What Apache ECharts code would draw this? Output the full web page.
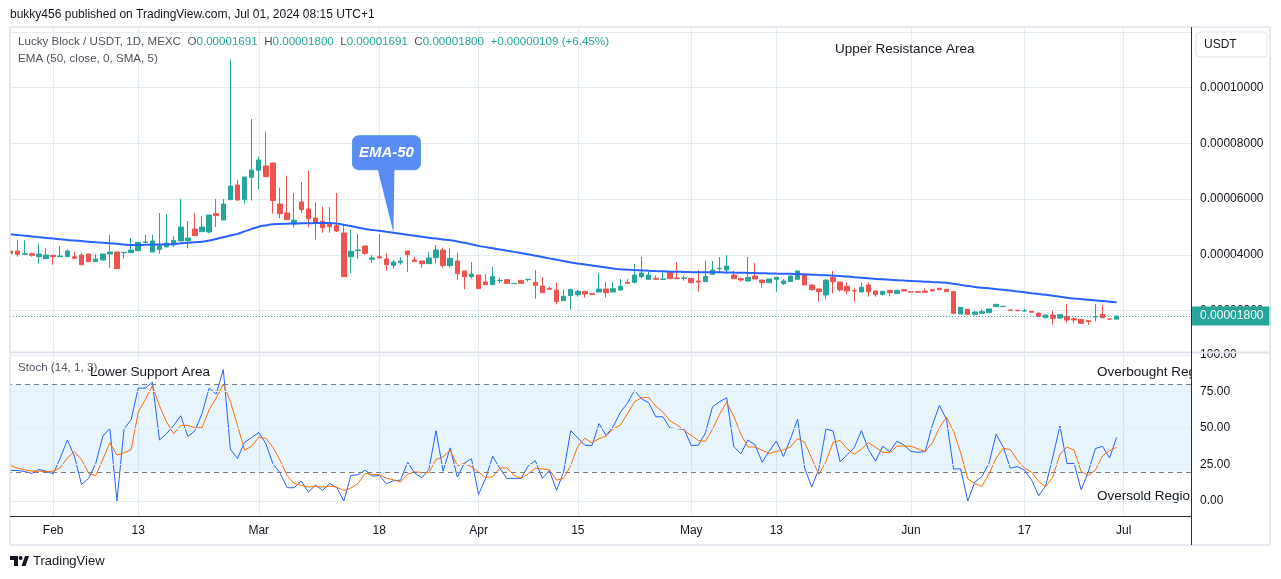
<!DOCTYPE html>
<html><head><meta charset="utf-8">
<script src="https://cdn.jsdelivr.net/npm/echarts@6/dist/echarts.min.js"></script>
<style>html,body{margin:0;padding:0;background:#fff}#c{width:1281px;height:579px}</style>
</head><body><div id="c"></div>
<script>
// ---------------- DATA (prices in units of 1e-8 USDT) ----------------
const UNIT = 1e-8;
const START_DATE = '2024-01-26';
const CATEGORY_COUNT = 167;
const tickDates  = ['2024-02-01','2024-02-13','2024-03-01','2024-03-18','2024-04-01','2024-04-15','2024-05-01','2024-05-13','2024-06-01','2024-06-17','2024-07-01'];
const tickLabels = ['Feb','13','Mar','18','Apr','15','May','13','Jun','17','Jul'];
const priceTicks  = [2000,4000,6000,8000,10000,12000];
const priceLabels = [2000,4000,6000,8000,10000];
const stochLevels = [80,50,20];

const open = [4136,4136,4016,4040,3932,3861,3980,3932,3932,3932,
 3992,4028,3753,3813,4028,4100,4076,4076,4148,4440,
 4100,4196,4280,4351,4495,4507,4926,4830,4818,5476,
 5249,5979,6506,5979,6781,7032,7188,7295,5823,5500,
 5105,5895,5644,5321,5201,5153,5046,4782,3932,4148,
 4315,3837,3932,3849,3621,3717,4136,3813,3777,3681,
 3897,4172,3609,3777,3418,3215,3274,3023,2927,3071,
 3107,2965,3083,3107,3011,2879,2796,2736,2353,2533,
 2568,2688,2604,2664,2772,2664,2736,3011,3011,3215,
 3119,3155,3119,3382,3167,3155,3155,3059,3035,3298,
 3502,3454,3274,3143,3059,3239,3095,2999,3119,2963,
 3035,3119,3310,2915,2772,2556,3179,3023,2868,2712,
 2664,2915,2700,2580,2724,2616,2748,2676,2676,2700,
 2748,2796,2760,2676,1874,2042,1862,1898,1922,2138,
 2138,2018,2006,1982,1970,1910,1743,1839,1731,1791,
 1707,1683,1635,1767,1862,1695,1691];
const high = [4150,4519,4519,4076,4387,4244,3980,4315,4196,4100,
 4064,4040,4016,4040,4722,4110,4100,4603,4460,4722,
 4722,5500,5464,4674,6003,5213,5500,5393,5428,6003,
 6003,10993,6685,6793,8875,7523,8420,7295,6410,6840,
 6218,6613,7020,5883,5728,5716,6218,5069,4890,4746,
 4315,3992,4746,4052,3813,3920,4136,3932,3777,4088,
 4351,4256,4232,4076,3418,3741,3274,3310,3562,3179,
 3131,2985,3083,3119,3454,3191,2856,2999,2760,2760,
 2736,2688,2628,3346,3023,3023,3131,3131,3669,3921,
 3394,3262,3406,3382,3741,3262,3155,3454,3777,3777,
 3921,3992,3430,3191,3921,3705,3095,3131,3191,3131,
 3239,3430,3310,2915,2772,3095,3418,3023,3011,2820,
 3011,3011,2700,2688,2724,2724,2760,2688,2676,2796,
 2760,2820,2772,2700,2114,2042,1982,2042,2054,2221,
 2160,2018,2030,2054,1982,1910,1839,1994,1850,2233,
 1755,1683,1635,2233,2197,1695,1800];
const low = [4030,3932,4010,3932,3681,3861,3645,3932,3932,3861,
 3645,3741,3753,3813,3537,3502,3861,4076,4140,4411,
 4100,4040,4280,4280,4495,4232,4686,4830,4770,4998,
 5249,5979,5943,5835,5943,6338,6805,5476,5309,5261,
 4986,5500,4986,4543,4794,4794,4818,3214,3334,3849,
 3992,3705,3885,3418,3502,3645,3382,3753,3537,3681,
 3693,3538,3538,3095,2760,3143,2784,2927,2927,2987,
 2975,2960,2975,3035,2425,2640,2760,2221,2353,2030,
 2497,2461,2580,2664,2461,2664,2712,2975,2975,3155,
 3119,3119,3119,3143,3143,3071,2975,2676,3035,3274,
 3334,3310,3143,3035,3035,3131,2820,2999,2676,2915,
 3035,3119,2915,2712,2317,2413,2616,2676,2580,2317,
 2664,2497,2497,2533,2509,2616,2700,2664,2640,2652,
 2700,2736,2676,1862,1874,1862,1814,1898,1922,2138,
 2138,2006,1970,1970,1934,1791,1743,1491,1695,1575,
 1539,1539,1479,1611,1719,1683,1691];
const close = [4040,4016,4040,3980,4028,3992,3932,3956,4136,3873,
 3645,3753,3849,4028,4100,3502,4088,4172,4447,4460,
 4495,4327,4423,4519,4998,4603,4686,4998,5428,5404,
 5823,6470,5967,6793,7044,7403,6805,5943,5476,5261,
 5237,5620,5297,5177,4974,5010,4854,3214,4124,4172,
 4052,3885,3885,3645,3741,3777,4004,3753,3681,3885,
 4172,3610,3873,3322,3215,3310,2784,2927,3227,3083,
 2975,2975,2975,3119,2903,2640,2760,2317,2509,2760,
 2688,2592,2580,2772,2640,2784,2867,2975,3274,3346,
 3274,3119,3131,3143,3143,3167,2999,3023,3227,3454,
 3514,3598,3143,3095,3191,3131,2999,3131,3191,3059,
 3239,3418,2915,2748,2676,3095,3035,2736,2700,2700,
 2832,2676,2580,2688,2640,2724,2700,2664,2652,2652,
 2700,2748,2676,1898,2114,1862,1946,1958,2054,2221,
 2150,2006,1994,1994,1934,1791,1839,1719,1850,1659,
 1659,1539,1599,1779,1743,1691,1800];
const ema50 = [4736,4710,4684,4658,4633,4607,4581,4556,4530,4510,
 4491,4471,4451,4432,4412,4392,4371,4351,4354,4358,
 4364,4370,4376,4390,4410,4432,4452,4470,4510,4570,
 4630,4690,4750,4840,4930,5008,5055,5094,5105,5115,
 5124,5130,5134,5137,5140,5141,5120,5080,5030,4978,
 4926,4893,4860,4826,4793,4757,4721,4686,4650,4614,
 4582,4550,4518,4480,4430,4375,4320,4275,4232,4190,
 4147,4105,4065,4017,3968,3920,3871,3823,3775,3727,
 3690,3654,3618,3582,3546,3510,3478,3465,3452,3440,
 3425,3414,3406,3398,3391,3383,3375,3371,3371,3371,
 3371,3366,3360,3355,3349,3344,3338,3332,3326,3321,
 3315,3308,3296,3285,3273,3262,3250,3239,3218,3197,
 3176,3155,3134,3119,3104,3089,3074,3061,3048,3035,
 3022,3010,2998,2960,2920,2880,2844,2820,2795,2770,
 2745,2716,2685,2654,2623,2594,2562,2528,2494,2460,
 2432,2409,2386,2363,2340,2317,2294];
const stochK = [20.9,20.9,20.2,18.9,21.6,20.5,18.6,29.3,41.8,30.7,
 11.4,15.5,25.5,44.3,49.8,0,49.3,55.7,77.3,77.3,
 81.4,41.8,46.1,51.8,58.4,44.1,48.2,59.8,77.3,73.2,
 90,35.5,29.1,40.2,43.4,47,39.3,25.5,19.3,9.1,
 9.1,13.6,6.1,10.9,7.3,12,9.3,0,17.5,18,
 21.1,17,17.5,11.8,13.9,14.3,26.6,19.1,15.9,21.6,
 48.2,20.5,36.4,16.4,25.9,28.9,4.5,15.5,30.7,22.3,
 15.5,15.5,15.5,23.9,27.7,15.5,20.9,7.3,19.8,48.2,
 43.2,38.2,38,53,44.8,51.1,60.7,67,75.7,70,
 67.3,57.7,57.7,50,49.5,49.1,38,38.2,46.6,64.5,
 68,70.7,37.3,32.3,41.8,38.4,26.6,34.1,41.1,30.5,
 42.5,56.1,22.5,9.5,22,49.3,48,26.8,31.8,36.6,
 48.2,35.2,27.3,37.5,33.9,40.9,38.4,33.9,33.4,33.9,
 51.8,65.5,55.9,22,22,0,13,16.8,25.9,45.7,
 37,22.5,23.6,21.1,14.5,3.6,10.5,30.2,51.4,25.7,
 25.7,7.7,19.8,35.9,37.5,29.5,43.6];
const stochD = [24.3,22.5,21.4,20.5,20.5,20,20.5,22.7,29.5,33.9,
 28.4,19.1,17.3,28.4,39.8,31.4,33,35,60.9,69.5,
 78.9,65.2,54.1,46.1,51.8,51.8,50.2,50.2,62.5,70.5,
 80,68.2,51.8,34.8,37.5,43.6,43,36.8,28,17.5,
 12,10.7,9.5,10.2,9.5,10.2,9.5,7,8.9,12,
 18.9,18.2,18,15.7,14.5,13,18.4,20,19.5,19.3,
 28.4,30.2,34.8,24.3,25.7,23.4,19.8,16.1,16.6,22.5,
 22.7,17.7,15.5,18.6,22.3,22,21.4,14.3,15.5,24.3,
 37.5,43,39.8,42.7,44.5,49.3,52,59.8,68,70.7,
 70.9,65,60.9,55,52,48.4,45,41.4,40.9,49.1,
 59.5,67.7,58,45.7,37,37,34.8,32.5,33.9,35,
 37,42.7,40.2,29.1,18.2,27,40.2,41.4,35.7,32,
 35.5,40,36.8,33.4,33,37.5,37.7,37.5,35.7,33.9,
 39.8,50,57.5,47.7,33,15.2,12,10,18.6,29.3,
 36.1,35.2,28,22.5,19.8,13.4,9.8,16.4,32,37,
 34.8,20.2,17.5,21.1,30.9,34.5,36.8];
const CALLOUT_AT = 54;

// ---------------- build ----------------
const categories = [];
(function(){ const t0 = Date.parse(START_DATE + 'T00:00:00Z');
  for (let k = 0; k < CATEGORY_COUNT; k++) categories.push(new Date(t0 + k*86400000).toISOString().slice(0,10)); })();
const candles = open.map((o,i)=>[o, close[i], low[i], high[i]]);
const fmtP = v => (v*UNIT).toFixed(8);
const last = close.length - 1;
const chg = close[last] - close[last-1];
const pct = chg / close[last-1] * 100;
const sign = chg >= 0 ? '+' : '-';

const FONT = '"Liberation Sans", Arial, sans-serif';
const GRID = '#e3ebf3';
const UP = '#26a69a', DOWN = '#ef5350';
const X0 = 10.6, BAND = 7.09;
const mainLeft = X0 - BAND/2, mainW = CATEGORY_COUNT*BAND, mainRight = 1281 - mainLeft - mainW;
const bgLeft = X0, bgW = (CATEGORY_COUNT-1)*BAND, bgRight = 1281 - bgLeft - bgW;
const isTick = (i, v) => tickDates.indexOf(v) >= 0;

function T(id, x, y, text, size, color, z, extra) {
  return {type:'text', id, x, y, z: z == null ? 110 : z, silent:true,
    style: Object.assign({text, fill: color, fontSize: size, fontFamily: FONT, verticalAlign:'middle', align:'left'}, extra || {})};
}
function L(id, x1, y1, x2, y2, color, w, z) {
  return {type:'line', id, z: z == null ? 105 : z, silent:true, shape:{x1,y1,x2,y2}, style:{stroke:color, lineWidth:w||1}};
}

const legendText = '{g|Lucky Block / USDT, 1D, MEXC}  {g|O}{v|' + fmtP(open[last]) + '}  {g|H}{v|' + fmtP(high[last]) +
  '}  {g|L}{v|' + fmtP(low[last]) + '}  {g|C}{v|' + fmtP(close[last]) + '}  {v|' + sign + fmtP(Math.abs(chg)) + ' (' + sign + Math.abs(pct).toFixed(2) + '%)}';
const LEG = 11.6;

const chart = echarts.init(document.getElementById('c'), null, {renderer:'canvas', width:1281, height:579});
chart.setOption({
  animation:false,
  backgroundColor:'#ffffff',
  grid:[
    {left:bgLeft, right:bgRight, top:27, height:489},
    {left:mainLeft, right:mainRight, top:27, height:325},
    {left:mainLeft, right:mainRight, top:355, height:146}
  ],
  xAxis:[
    {gridIndex:0, type:'category', data:categories, boundaryGap:false,
     axisLine:{show:false}, axisTick:{show:false},
     axisLabel:{interval:isTick, formatter:v => tickLabels[tickDates.indexOf(v)] || '', color:'#131722', fontSize:12, fontFamily:FONT, margin:9},
     splitLine:{show:true, interval:isTick, lineStyle:{color:GRID, width:1}}},
    {gridIndex:1, type:'category', data:categories, boundaryGap:true, show:false},
    {gridIndex:2, type:'category', data:categories, boundaryGap:true, show:false}
  ],
  yAxis:[
    {gridIndex:0, type:'value', min:0, max:1, show:false},
    {gridIndex:1, type:'value', position:'right', min:510, max:12178,
     axisLine:{show:false}, axisTick:{show:false, customValues:priceTicks},
     axisLabel:{customValues:priceLabels, formatter:fmtP, color:'#131722', fontSize:12, fontFamily:FONT, margin:9},
     splitLine:{show:true, lineStyle:{color:GRID, width:1}}},
    {gridIndex:2, type:'value', position:'right', min:0, max:100, interval:25, z:60,
     axisLine:{show:false}, axisTick:{show:false},
     axisLabel:{formatter:v => v.toFixed(2), color:'#131722', fontSize:12, fontFamily:FONT, margin:9},
     splitLine:{show:true, lineStyle:{color:GRID, width:1}}}
  ],
  series:[
    {type:'candlestick', name:'Lucky Block / USDT', xAxisIndex:1, yAxisIndex:1, data:candles, barWidth:5,
     itemStyle:{color:UP, color0:DOWN, borderColor:UP, borderColor0:DOWN, borderWidth:1},
     markLine:{silent:true, symbol:['none','none'], animation:false,
       data:[{yAxis: close[last]}],
       lineStyle:{color:UP, type:[1,2], width:1},
       label:{show:true, position:'end', distance:1, formatter:() => fmtP(close[last]),
         backgroundColor:UP, color:'#ffffff', fontSize:12, fontFamily:FONT, padding:[4,7,3,8]}}},
    {type:'line', name:'EMA 50', xAxisIndex:1, yAxisIndex:1, data:ema50, smooth:0.3, showSymbol:false, symbol:'none',
     lineStyle:{color:'#2962ff', width:2}, z:3},
    {type:'line', name:'%K', xAxisIndex:2, yAxisIndex:2, data:stochK, showSymbol:false, symbol:'none',
     lineStyle:{color:'#2962ff', width:1},
     markArea:{silent:true, itemStyle:{color:'rgba(33,150,243,0.1)'}, data:[[{yAxis:stochLevels[2]},{yAxis:stochLevels[0]}]]},
     markLine:{silent:true, symbol:['none','none'], label:{show:false},
       lineStyle:{color:'#787b86', type:[5,4], width:1},
       data:stochLevels.map(v => ({yAxis:v}))}},
    {type:'line', name:'%D', xAxisIndex:2, yAxisIndex:2, data:stochD, showSymbol:false, symbol:'none',
     lineStyle:{color:'#ff6d00', width:1}}
  ],
  graphic:{elements:[
    T('hdr', 10, 15, 'bukky456 published on TradingView.com, Jul 01, 2024 08:15 UTC+1', 12, '#131722'),
    {type:'rect', id:'leftCover', z:100, silent:true, shape:{x:0, y:27, width:10, height:490}, style:{fill:'#ffffff'}},
    {type:'rect', id:'rightCover', z:50, silent:true, shape:{x:1192, y:353, width:77.5, height:162}, style:{fill:'#ffffff'}},
    {type:'rect', id:'frame', z:101, silent:true, shape:{x:10, y:27, width:1260, height:518}, style:{fill:null, stroke:'#e0e3eb', lineWidth:1.5}},
    L('sep', 10, 352.5, 1270, 352.5, '#e0e3eb', 2, 70),
    L('vaxis', 1191.5, 27, 1191.5, 545, '#2a2e39', 1, 102),
    L('haxis', 10, 516.5, 1191, 516.5, '#2a2e39', 1, 102),
    {type:'text', id:'legend1', x:18, y:42, z:110, silent:true,
     style:{text:legendText, fontSize:LEG, fontFamily:FONT, verticalAlign:'middle', fill:'#50535e',
       rich:{g:{fill:'#50535e', fontSize:LEG, fontFamily:FONT}, v:{fill:UP, fontSize:LEG, fontFamily:FONT}}}},
    T('legend2', 18, 59, 'EMA (50, close, 0, SMA, 5)', LEG, '#50535e'),
    T('upper', 835, 49, 'Upper Resistance Area', 13.5, '#131722'),
    T('stochLbl', 18, 368, 'Stoch (14, 1, 3)', LEG, '#50535e', 40),
    T('lower', 90, 372, 'Lower Support Area', 13.5, '#131722', 41),
    T('ob', 1097, 372, 'Overbought Region', 13.5, '#131722', 45),
    T('os', 1097, 496, 'Oversold Region', 13.5, '#131722', 45),
    {type:'rect', id:'usdtBox', z:110, silent:true, shape:{x:1196, y:32, width:71, height:25, r:4}, style:{fill:'#ffffff', stroke:'#e0e3eb', lineWidth:1}},
    T('usdt', 1204, 45, 'USDT', 12, '#131722', 111),
    {type:'polygon', id:'logo1', z:110, silent:true, shape:{points:[[10,556],[18,556],[18,566],[14,566],[14,560],[10,560]]}, style:{fill:'#131722'}},
    {type:'circle', id:'logo2', z:110, silent:true, shape:{cx:20.6, cy:558, r:2}, style:{fill:'#131722'}},
    {type:'polygon', id:'logo3', z:110, silent:true, shape:{points:[[21.5,566],[25,556],[29,556],[25.5,566]]}, style:{fill:'#131722'}},
    T('tv', 33, 561, 'TradingView', 13, '#131722')
  ]}
});

// EMA-50 callout anchored on the EMA line through the library's own scales
const tip = chart.convertToPixel({xAxisIndex:1, yAxisIndex:1}, [CALLOUT_AT, ema50[CALLOUT_AT]]);
const CALL = '#5b8cf6';
chart.setOption({graphic:{elements:[
  {type:'rect', id:'callBox', z:120, silent:true, shape:{x:tip[0]-41, y:tip[1]-97, width:68, height:34, r:6}, style:{fill:CALL, stroke:'#4f9be0', lineWidth:1}},
  {type:'polygon', id:'callPtr', z:121, silent:true, shape:{points:[[tip[0]-16, tip[1]-64.5],[tip[0]+1, tip[1]-64.5],[tip[0], tip[1]]]}, style:{fill:CALL}},
  {type:'text', id:'callTxt', z:122, silent:true, x:tip[0]-7, y:tip[1]-80,
   style:{text:'EMA-50', fill:'#ffffff', fontSize:15, fontStyle:'italic', fontWeight:'bold', fontFamily:FONT, align:'center', verticalAlign:'middle'}}
]}});
</script>
</body></html>
